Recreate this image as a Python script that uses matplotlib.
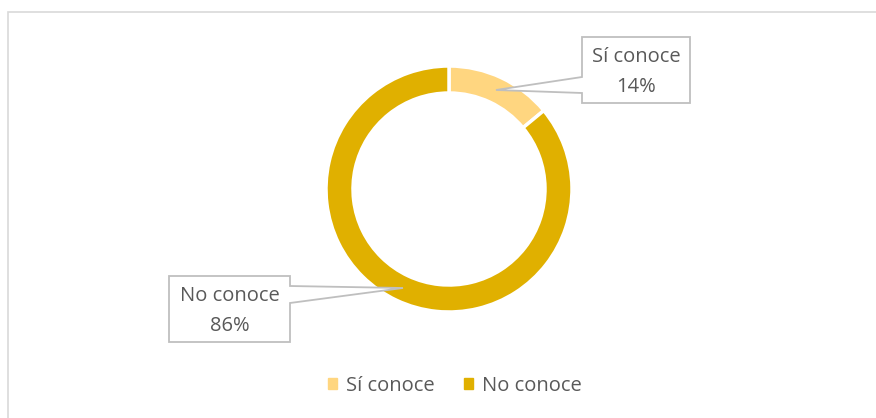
import matplotlib.pyplot as plt
from matplotlib.patches import Polygon, Rectangle

labels = ["Sí conoce", "No conoce"]
values = [14, 86]
colors = ["#FFD680", "#E0B000"]

W, H = 876, 418
plt.rcParams['font.family'] = ['Open Sans', 'DejaVu Sans']
txt_col = "#595959"
line_col = "#BFBFBF"
fs = 14.5

fig = plt.figure(figsize=(W / 100, H / 100), dpi=100)
ax = fig.add_axes([0, 0, 1, 1])

def py(y):
    # pixel y (top down) -> data y
    return H - y

# chart frame
ax.add_patch(Rectangle((8, py(430)), 880, 418, fill=False, ec="#D9D9D9", lw=1.2))

# donut
wedges, _ = ax.pie(values, colors=colors, startangle=90, counterclock=False,
                   center=(449, py(189)), radius=123, frame=True,
                   wedgeprops=dict(width=27, edgecolor="white", linewidth=2.5))
ax.set_xlim(0, W)
ax.set_ylim(0, H)
ax.set_aspect("equal")
ax.axis("off")

# callouts
def callout(box, tip, p1, p2, side, lines):
    l, t, r, b = box
    if side == "left":
        pts = [(l, t), (r, t), (r, b), (l, b), (l, p2), tip, (l, p1)]
    else:
        pts = [(l, t), (r, t), (r, p1), tip, (r, p2), (r, b), (l, b)]
    pts = [(x, py(y)) for x, y in pts]
    ax.add_patch(Polygon(pts, closed=True, fc="white", ec=line_col, lw=1.3, zorder=5))
    cx = (l + r) / 2
    ax.text(cx, py(t + 20), lines[0], ha="center", va="center", fontsize=fs,
            color=txt_col, zorder=6)
    ax.text(cx, py(b - 16), lines[1], ha="center", va="center", fontsize=fs,
            color=txt_col, zorder=6)

callout((582, 37, 690, 103), (496, 90), 77, 93, "left",
        [labels[0], f"{values[0]}%"])
callout((169, 276, 290, 342), (403, 288), 286, 303, "right",
        [labels[1], f"{values[1]}%"])

# legend
handles = [plt.Rectangle((0, 0), 1, 1, color=c) for c in colors]
fig.legend(handles, labels, loc="center", bbox_to_anchor=(455 / W, 1 - 386 / H),
           ncol=2, frameon=False, fontsize=fs, handlelength=0.45, handleheight=0.45,
           handletextpad=0.45, columnspacing=1.45, labelcolor=txt_col)

fig.savefig("out.png", dpi=100)
